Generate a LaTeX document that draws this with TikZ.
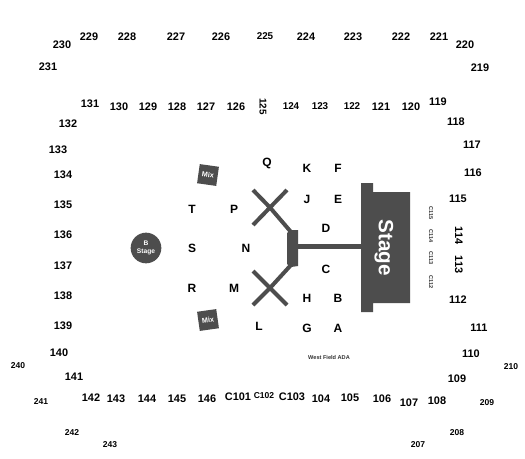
\documentclass[tikz,border=0pt]{standalone}
\usepackage{fontspec}
\setmainfont{Liberation Sans}
\definecolor{stagegrey}{HTML}{4D4D4D}
\tikzset{
  x=0.75pt,y=-0.75pt,
  seat/.style={font=\bfseries\fontsize{8.2}{9}\selectfont,text=black,inner sep=0pt,yshift=-0.4pt},
  mid/.style={font=\bfseries\fontsize{7.4}{8}\selectfont,text=black,inner sep=0pt,yshift=-0.4pt},
  small/.style={font=\bfseries\fontsize{6.4}{8}\selectfont,text=black,inner sep=0pt},
  tiny/.style={font=\bfseries\fontsize{4.2}{5}\selectfont,text=black!80,inner sep=0pt},
  letter/.style={font=\bfseries\fontsize{9}{10}\selectfont,text=black,inner sep=0pt},
  walk/.style={draw=stagegrey,line width=3pt},
  mix/.style={fill=stagegrey,text=white,minimum size=14.5pt,inner sep=0pt,font=\bfseries\fontsize{5.4}{6}\selectfont},
}
\begin{document}
\begin{tikzpicture}
\useasboundingbox[fill=white] (0,0) rectangle (525,458);
% stage
\fill[stagegrey] (361,183) -- (373,183) -- (373,192) -- (410,192) -- (410,303) -- (373,303) -- (373,312) -- (361,312) -- cycle;
\fill[stagegrey] (298,244) rectangle (361,249);
\fill[stagegrey] (287,233) -- (291,230) -- (298,230) -- (298,266) -- (291,267) -- (287,264) -- cycle;
% crosses
\coordinate (xa) at (270,207.5);
\coordinate (xb) at (270,288);
\draw[walk] (253,190) -- (xa) -- (291,232);
\draw[walk] (287,190) -- (xa) -- (253,225);
\draw[walk] (253,271) -- (xb) -- (287,305);
\draw[walk] (253,305) -- (xb) -- (291,265);
\node[text=white,font=\bfseries\fontsize{15.5}{16}\selectfont,rotate=-90,inner sep=0pt] (stage) at (384,247.5) {Stage};
% B stage
\node[circle,fill=stagegrey,minimum size=23pt,inner sep=0pt,text=white,align=center,font=\bfseries\fontsize{5}{6}\selectfont] (bstage) at (146,248) {B\\[-0.5pt]Stage};
\node[mix,rotate=-8] (mixa) at (208,175) {Mix};
\node[mix,rotate=8] (mixb) at (208,320) {Mix};
% numbers
\foreach \t/\x/\y in {230/62/44,229/89/36,228/127/36,227/176/36,226/221/36,224/306/36,223/353/36,222/401/36,221/439/36,220/465/44,219/480/67,231/48/66,
131/90/103,130/119/106,129/148/106,128/177/106,127/206/106,126/236/106,121/381/106,120/411/106,119/438/101,118/456/121,117/472/144,116/473/172,115/458/198,112/458/299,111/479/327,110/471/353,109/457/378,108/437/400,107/409/402,106/382/398,105/350/397,104/321/398,C103/292/396,C101/238/396,146/207/398,145/177/398,144/147/398,143/116/398,142/91/397,141/74/376,140/59/352,139/63/325,138/63/295,137/63/265,136/63/234,135/63/204,134/63/174,133/58/149,132/68/123}
  \node[seat] (n\t) at (\x,\y) {\t};
\foreach \t/\x/\y in {225/265/36,124/291/106,123/320/106,122/352/106}
  \node[mid] (n\t) at (\x,\y) {\t};
\node[small] (nC102) at (264,396) {C102};
\foreach \t/\x/\y in {240/18/366,241/41/402,242/72/433,243/110/445,207/418/445,208/457/433,209/487/403,210/511/367}
  \node[small] (n\t) at (\x,\y) {\t};
\node[mid,rotate=-90] (n125) at (263,106) {125};
\foreach \t/\x/\y in {114/459/235,113/459/264}
  \node[seat,rotate=-90] (n\t) at (\x,\y) {\t};
\foreach \t/\x/\y in {C115/431/213,C114/431/236,C113/431/258,C112/431/282}
  \node[tiny,rotate=-90] (n\t) at (\x,\y) {\t};
\node[tiny] (ada) at (329,357) {West Field ADA};
% letters
\foreach \t/\x/\y in {Q/267/163,K/307/168,F/338/168,J/307/199,E/338/199,D/326/228,C/326/269,H/307/298,B/338/298,G/307/328,A/338/328,T/192/209,P/234/209,S/192/248,N/246/248,R/192/288,M/234/288,L/259/326}
  \node[letter] (l\t) at (\x,\y) {\t};
\end{tikzpicture}
\end{document}
